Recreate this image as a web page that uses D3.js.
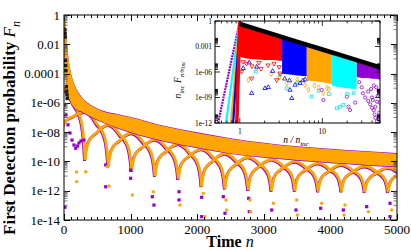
<!DOCTYPE html>
<html><head><meta charset="utf-8">
<script src="https://cdn.jsdelivr.net/npm/d3@7"></script>
<style>body{margin:0;background:#fff} svg{display:block} text{font-family:"Liberation Serif","Times New Roman",serif;fill:#000}</style>
</head><body>
<svg id="c" width="411" height="251"></svg>
<script>
// ================= MAIN PLOT DATA (log10 F) =================
const xTickValues = [0,1000,2000,3000,4000,5000];
const yTickExps   = [0,-2,-4,-6,-8,-10,-12,-14];
const yTickLabels = ["1","0.01","0.0001","1e-06","1e-08","1e-10","1e-12","1e-14"];
const yMinorExps  = [-1,-3,-5,-7,-9,-11,-13];

// dense orange band (upper envelope and lower edge of the solid band)
const bandN      = [0,10,20,30,45,60,80,105,150,200,270,345,450,600,800,1000,1500,2000,2500,3000,3500,4000,4500,5000];
const bandTopLog = [0,-0.1,-0.4,-0.9,-2.0,-2.7,-3.4,-4.0,-4.7,-5.2,-5.65,-6.0,-6.3,-6.6,-6.8,-7.0,-7.6,-8.05,-8.45,-8.76,-9.0,-9.17,-9.33,-9.47];
const bandBotLog = [-2.2,-3.0,-3.8,-4.4,-5.0,-5.4,-5.7,-6.0,-6.3,-6.5,-6.6,-6.8,-7.05,-7.35,-7.7,-8.0,-8.6,-9.05,-9.45,-9.7,-9.9,-10.08,-10.22,-10.35];

// dips of the arch mesh, foot level of the arches at each dip, and peak of the arch centred on each dip
const dipsN       = [-383,-33,317,667,1017,1367,1717,2067,2417,2767,3117,3467,3817,4167,4517,4867,5217,5567];
const dipFootLog  = [-6,-8,-9.9,-10.35,-10.65,-11.0,-11.2,-11.7,-11.85,-11.95,-12.0,-12.0,-12.05,-12.05,-12.1,-12.1,-12.15,-12.2];
const archPeakLog = [-3.5,-5.0,-6.6,-7.5,-8.05,-8.5,-8.8,-9.15,-9.45,-9.7,-9.85,-10.0,-10.12,-10.22,-10.32,-10.42,-10.5,-10.6];
// shape of one arch side: fraction of the span from the foot, and fraction of the foot depth
const archProfileT = [0,0.02,0.05,0.1,0.15,0.25,0.35,0.5];
const archProfileG = [1,0.78,0.58,0.42,0.33,0.22,0.09,0];

// isolated points below the dips
const isoOrangeN   = [326,650,676,1026,1341,1742,191,188,2092,2117,2443,2432,2803,2793,3143,3503,3494,3869,4219,4204,4570,4920];
const isoOrangeLog = [-10.7,-10.36,-11.68,-12.29,-12.07,-12.98,-11.38,-10.72,-12.18,-13.77,-13.32,-12.63,-13.43,-12.63,-12.86,-13.66,-12.63,-12.86,-12.98,-13.66,-13.43,-13.32];
const isoPurpleN   = [626,626,1001,1001,1326,1351,1727,1727,15,2067,2067,2392,2417,2782,2773,3119,3483,3844,3854,4194,4545,4895,4895];
const isoPurpleLog = [-10.24,-11.73,-11.15,-10.59,-12.41,-12.98,-12.07,-12.63,-13.13,-12.45,-13.77,-12.41,-13.54,-13.43,-12.52,-13.32,-13.32,-14.0,-13.2,-13.32,-13.09,-12.86,-13.77];
// purple squares of the early V near n ~ 0-300
const vPurpleN   = [8,30,60,90,120,150,176,203,225,255,300];
const vPurpleLog = [-6.15,-6.83,-7.5,-8.06,-8.54,-8.88,-9.1,-8.95,-8.74,-8.6,-8.54];
// dark squares along the left edge at small n
const darkN   = [12,15,18,22,25,28,36,40,44,48];
const darkLog = [-1.0,-1.25,-1.5,-3.1,-3.45,-3.8,-4.9,-5.2,-5.45,-5.7];

// ================= INSET DATA =================
const insetXTicks = [1,10];
const insetYExps = [0,-3,-6,-9,-12];
const insetYLabels = ["1","0.001","1e-06","1e-09","1e-12"];
const insetLineX   = [1,2,5,10,20,50];
const insetLineLog = [-0.35,-1.25,-2.45,-3.35,-4.25,-5.45];

const redAreaX = [1.0,1.2,1.5,2,2.5,3.25];
const redAreaTop = [-0.1,-0.55,-0.88,-1.25,-1.54,-1.89];
const redAreaBot = [-4.2,-4.4,-4.5,-4.6,-4.6,-4.7];
const blueAreaX = [3.25,4,5,6.45];
const blueAreaTop = [-1.89,-2.15,-2.45,-2.78];
const blueAreaBot = [-6.2,-6.3,-6.4,-6.5];
const orangeAreaX = [6.45,8,10,13];
const orangeAreaTop = [-2.78,-3.05,-3.35,-3.69];
const orangeAreaBot = [-7.0,-7.1,-7.2,-7.4];
const cyanAreaX = [13,16,20,26];
const cyanAreaTop = [-3.69,-3.96,-4.25,-4.6];
const cyanAreaBot = [-7.6,-7.8,-7.9,-8.0];
const purpleAreaX = [26,30,35,40,45,50];
const purpleAreaTop = [-4.6,-4.78,-4.98,-5.16,-5.31,-5.45];
const purpleAreaBot = [-6.6,-6.7,-6.7,-6.8,-6.8,-6.9];

// rising parts before n = n_inc
const riseColors = ["#9400d3","#00ffff","#ffa500","#0000ff","#ff0000"];
const riseX0 = [0.545,0.68,0.78,0.83,0.92];
const riseX1 = [0.98,0.99,0.99,1.0,1.0];
const riseLog0 = [-12,-12,-12,-12,-12];
const riseLog1 = [-0.4,-0.3,-0.3,-0.25,-0.05];

const redPtsX = [1.05,1.39,2.8,3.07,1.2,1.4,1.7,2.2,2.6,3.0,1.1,1.8];
const redPtsLog = [-5.96,-6.74,-6.94,-6.15,-5.0,-5.3,-4.9,-5.2,-5.0,-5.4,-4.8,-5.6];
const bluePtsX = [1.1,1.39,2.02,2.21,4.06,4.67,5.37,4.26,1.3,1.6,2.5,3.5,4.0,5.8,6.2];
const bluePtsLog = [-5.56,-8.5,-7.92,-7.8,-8.12,-7.53,-7.33,-9.09,-4.9,-5.4,-5.9,-6.8,-7.0,-7.0,-6.9];
const orangePtsX = [1.27,3.7,6.17,6.77,10.3,11.3,1.6,2.4,3.0,5.0,8,9,12];
const orangePtsLog = [-6.94,-7.33,-7.53,-8.12,-8.5,-7.92,-5.56,-6.2,-6.6,-6.9,-7.6,-7.8,-8.0];
const cyanPtsX = [1.57,3.07,3.7,7.44,15,16.4,18,5,9,12,20,24];
const cyanPtsLog = [-5.96,-6.35,-7.92,-8.9,-10.27,-10.08,-9.88,-7.2,-8.2,-8.6,-8.6,-8.5];
const purplePtsX = [9.8,10.3,19.8,20.7,21.7,28,30,31,33,36,38,40,42,44,46,47,48,45,42,39,36,43,44,46,48,49,49.5,40,41,25];
const purplePtsLog = [-8.12,-9.29,-8.9,-10.08,-10.47,-7.2,-7.8,-8.5,-9.0,-9.4,-9.8,-10.2,-10.5,-10.1,-9.5,-8.8,-8.2,-7.8,-7.6,-8.0,-8.3,-11.0,-11.4,-11.8,-11.5,-10.8,-9.6,-9.0,-9.3,-9.6];

// ================= DRAWING =================
const ORANGE = "#ffa500", PURPLE = "#9400d3";
const svg = d3.select("#c");
const x = d3.scaleLinear().domain([0,5000]).range([64,397]);
const y = d3.scaleLog().domain([1e-14,1]).range([220,15]);
const P = v => y(Math.pow(10,v));

const defs = svg.append("defs");
defs.append("clipPath").attr("id","clipMain").append("rect").attr("x",64).attr("y",15).attr("width",333).attr("height",205);
const gMain = svg.append("g").attr("clip-path","url(#clipMain)");

// arches
function archPoints(i, dn, dl){
  const left = dipsN[i-1]+dn, right = dipsN[i+1]+dn, peak = archPeakLog[i];
  const fl = dipFootLog[i-1], fr = dipFootLog[i+1], pts=[];
  archProfileT.forEach((t,j)=> pts.push([left + t*(right-left), peak + (fl-peak)*archProfileG[j] + dl]));
  for (let j=archProfileT.length-2;j>=0;j--){
    const t = archProfileT[j];
    pts.push([right - t*(right-left), peak + (fr-peak)*archProfileG[j] + dl]);
  }
  return pts;
}
const archLine = d3.line().x(d=>x(d[0])).y(d=>P(d[1])).curve(d3.curveMonotoneX);
for (let i=1;i<dipsN.length-1;i++){
  gMain.append("path").attr("d",archLine(archPoints(i,-10,-0.06))).attr("fill","none").attr("stroke",PURPLE).attr("stroke-width",2.8);
}
for (let i=1;i<dipsN.length-1;i++){
  gMain.append("path").attr("d",archLine(archPoints(i,0,0))).attr("fill","none").attr("stroke",ORANGE).attr("stroke-width",2.8);
}
// band
const bandData = bandN.map((n,i)=>({n, t:bandTopLog[i], b:bandBotLog[i]}));
gMain.append("path").datum(bandData)
  .attr("d", d3.area().x(d=>x(d.n)).y0(d=>P(d.b-0.05)).y1(d=>P(d.t+0.04)).curve(d3.curveMonotoneX))
  .attr("fill",PURPLE);
gMain.append("path").datum(bandData)
  .attr("d", d3.area().x(d=>x(d.n)).y0(d=>P(d.b)).y1(d=>P(d.t)).curve(d3.curveMonotoneX))
  .attr("fill",ORANGE);

// isolated points
function squares(g, ns, ls, col, s){
  g.selectAll(null).data(ns.map((n,i)=>[n,ls[i]])).join("rect")
    .attr("x",d=>x(d[0])-s/2).attr("y",d=>P(d[1])-s/2).attr("width",s).attr("height",s).attr("fill",col);
}
squares(gMain, vPurpleN, vPurpleLog, PURPLE, 3.2);
squares(gMain, isoPurpleN, isoPurpleLog, PURPLE, 3.2);
gMain.selectAll(null).data(isoOrangeN.map((n,i)=>[n,isoOrangeLog[i]])).join("circle")
  .attr("cx",d=>x(d[0])).attr("cy",d=>P(d[1])).attr("r",1.7).attr("fill",ORANGE);
squares(gMain, darkN, darkLog, "#1c1c1c", 3.4);

// main frame + ticks
svg.append("rect").attr("x",64).attr("y",15).attr("width",333).attr("height",205).attr("fill","none").attr("stroke","#000").attr("stroke-width",1);
const tk = svg.append("g").attr("stroke","#000").attr("stroke-width",1);
d3.range(0,5001,100).forEach(v=>{
  const major = v%1000===0, L = major?6:3, xx = Math.round(x(v))+0.5;
  tk.append("line").attr("x1",xx).attr("x2",xx).attr("y1",220).attr("y2",220-L);
  tk.append("line").attr("x1",xx).attr("x2",xx).attr("y1",15).attr("y2",15+L);
});
yTickExps.forEach(e=>{
  const yy = Math.round(P(e))+0.5;
  tk.append("line").attr("x1",64).attr("x2",70).attr("y1",yy).attr("y2",yy);
  tk.append("line").attr("x1",397).attr("x2",391).attr("y1",yy).attr("y2",yy);
});
// minor ticks: k x 10^(odd exponent), k = 1..9
yMinorExps.forEach(e=>{
  for (let m=1;m<=9;m++){
    const yy = y(m*Math.pow(10,e));
    tk.append("line").attr("x1",64).attr("x2",67.5).attr("y1",yy).attr("y2",yy).attr("stroke","#444").attr("stroke-width",0.7);
    tk.append("line").attr("x1",397).attr("x2",393.5).attr("y1",yy).attr("y2",yy).attr("stroke","#444").attr("stroke-width",0.7);
  }
});
// labels
svg.selectAll(null).data(xTickValues).join("text").attr("x",d=>x(d)).attr("y",234).attr("text-anchor","middle").attr("font-size",13).text(d=>d);
svg.selectAll(null).data(yTickExps).join("text").attr("x",60).attr("y",d=>P(d)+4.5).attr("text-anchor","end").attr("font-size",13).text((d,i)=>yTickLabels[i]);
const xt = svg.append("text").attr("x",230).attr("y",246.5).attr("text-anchor","middle").attr("font-size",16).attr("font-weight","bold");
xt.append("tspan").text("Time ");
xt.append("tspan").attr("font-style","italic").attr("font-weight","normal").text("n");
const yt = svg.append("text").attr("transform","translate(15,128) rotate(-90)").attr("text-anchor","middle").attr("font-size",17).attr("font-weight","bold");
yt.append("tspan").text("First Detection probability ");
yt.append("tspan").attr("font-style","italic").attr("font-weight","normal").text("F");
yt.append("tspan").attr("font-style","italic").attr("font-weight","normal").attr("font-size",12).attr("dy",5).text("n");

// ================= INSET =================
const ix = d3.scaleLog().domain([0.5,50]).range([215,380]);
const iy = d3.scaleLog().domain([1e-12,1]).range([123,21]);
const IP = v => iy(Math.pow(10,v));
svg.append("rect").attr("x",215).attr("y",21).attr("width",165).attr("height",102).attr("fill","#fff");
defs.append("clipPath").attr("id","clipIn").append("rect").attr("x",215).attr("y",21).attr("width",165).attr("height",102);
const gIn = svg.append("g").attr("clip-path","url(#clipIn)");

const sym = (type,size)=>d3.symbol().type(type).size(size);
function openSyms(xs, ls, col, type, size, rot){
  gIn.selectAll(null).data(xs.map((v,i)=>[v,ls[i]])).join("path")
    .attr("d",sym(type,size)())
    .attr("transform",d=>`translate(${ix(d[0])},${IP(d[1])}) rotate(${rot})`)
    .attr("fill","none").attr("stroke",col).attr("stroke-width",0.8);
}
openSyms(purplePtsX, purplePtsLog, "#9400d3", d3.symbolCircle, 8, 0);
openSyms(cyanPtsX, cyanPtsLog, "#00e5e5", d3.symbolSquare, 8, 0);
openSyms(orangePtsX, orangePtsLog, "#ffa500", d3.symbolDiamond, 8, 0);
openSyms(bluePtsX, bluePtsLog, "#0000ff", d3.symbolTriangle, 8, 0);
openSyms(redPtsX, redPtsLog, "#ff0000", d3.symbolTriangle, 8, 180);

const areaGen = d3.area().x(d=>ix(d[0])).y0(d=>IP(d[2])).y1(d=>IP(d[1]));
[[purpleAreaX,purpleAreaTop,purpleAreaBot,"#9400d3"],[cyanAreaX,cyanAreaTop,cyanAreaBot,"#00ffff"],
 [orangeAreaX,orangeAreaTop,orangeAreaBot,"#ffa500"],[blueAreaX,blueAreaTop,blueAreaBot,"#0000ff"],
 [redAreaX,redAreaTop,redAreaBot,"#ff0000"]].forEach(([xs,ts,bs,c])=>{
  gIn.append("path").attr("d",areaGen(xs.map((v,i)=>[v,ts[i],bs[i]]))).attr("fill",c);
});
riseColors.forEach((c,i)=>{
  gIn.append("line").attr("x1",ix(riseX0[i])).attr("y1",IP(riseLog0[i])).attr("x2",ix(riseX1[i])).attr("y2",IP(riseLog1[i]))
    .attr("stroke",c).attr("stroke-width",i===4?3.5:2.2).attr("stroke-dasharray",i===0?"2,0.8":null);
});
gIn.append("path").attr("d",d3.line().x(d=>ix(d[0])).y(d=>IP(d[1]))(insetLineX.map((v,i)=>[v,insetLineLog[i]])))
  .attr("fill","none").attr("stroke","#000").attr("stroke-width",4.5);

svg.append("rect").attr("x",215).attr("y",21).attr("width",165).attr("height",102).attr("fill","none").attr("stroke","#000").attr("stroke-width",1);
const itk = svg.append("g").attr("stroke","#000").attr("stroke-width",0.8);
const ixTicks = [0.5,0.6,0.7,0.8,0.9,1,2,3,4,5,6,7,8,9,10,20,30,40,50];
ixTicks.forEach(v=>{
  const major = insetXTicks.includes(v), L = major?5:2.5, xx = ix(v);
  itk.append("line").attr("x1",xx).attr("x2",xx).attr("y1",123).attr("y2",123-L);
  itk.append("line").attr("x1",xx).attr("x2",xx).attr("y1",21).attr("y2",21+L);
});
insetYExps.forEach(e=>{
  const yy = IP(e);
  itk.append("line").attr("x1",215).attr("x2",220).attr("y1",yy).attr("y2",yy);
  itk.append("line").attr("x1",380).attr("x2",375).attr("y1",yy).attr("y2",yy);
  if (e<0) for (let m=2;m<=9;m++){
    const ym = iy(m*Math.pow(10,e));
    itk.append("line").attr("x1",215).attr("x2",218).attr("y1",ym).attr("y2",ym);
    itk.append("line").attr("x1",380).attr("x2",377).attr("y1",ym).attr("y2",ym);
  }
});
svg.selectAll(null).data(insetXTicks).join("text").attr("x",d=>ix(d)).attr("y",133.5).attr("text-anchor","middle").attr("font-size",7.5).text(d=>d);
svg.selectAll(null).data(insetYExps).join("text").attr("x",212).attr("y",d=>IP(d)+2.6).attr("text-anchor","end").attr("font-size",7.5).text((d,i)=>insetYLabels[i]);
const ixt = svg.append("text").attr("x",296).attr("y",143).attr("text-anchor","middle").attr("font-size",9.5).attr("font-style","italic");
ixt.append("tspan").text("n / n");
ixt.append("tspan").attr("font-size",7).attr("dy",2.5).text("inc");
const iyt = svg.append("text").attr("transform","translate(181,80) rotate(-90)").attr("text-anchor","middle").attr("font-size",9.5).attr("font-style","italic");
iyt.append("tspan").text("n");
iyt.append("tspan").attr("font-size",7).attr("dy",2.5).text("inc");
iyt.append("tspan").attr("dy",-2.5).text(" F");
iyt.append("tspan").attr("font-size",7).attr("dy",2.5).text("n/n");
iyt.append("tspan").attr("font-size",5.5).attr("dy",1.5).text("inc");
</script>
</body></html>
